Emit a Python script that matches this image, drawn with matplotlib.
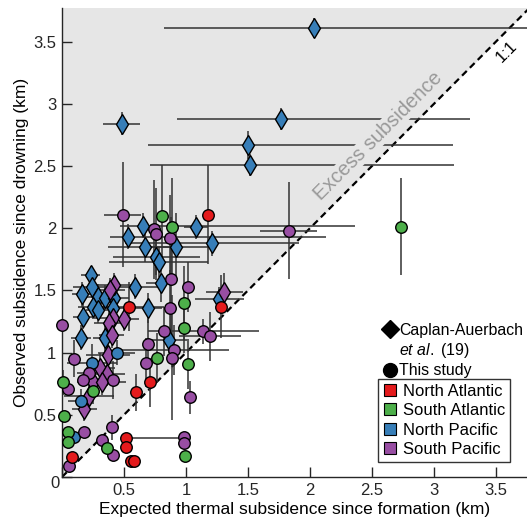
import matplotlib
matplotlib.use("Agg")
import matplotlib.pyplot as plt
from matplotlib.lines import Line2D
import numpy as np

plt.rcParams['font.family'] = 'Liberation Sans'
plt.rcParams['mathtext.fontset'] = 'custom'
plt.rcParams['mathtext.rm'] = 'Liberation Sans'
plt.rcParams['mathtext.it'] = 'Liberation Sans:italic'

colors = {"North Atlantic": "#e41a1c", "South Atlantic": "#4daf4a",
          "North Pacific": "#377eb8", "South Pacific": "#984ea3"}
regions = ["North Atlantic", "South Atlantic", "North Pacific", "South Pacific"]

# Caplan-Auerbach et al. (diamonds): x, y, x err lo/hi, y err
ca_np_x = [2.03, 0.48, 1.77, 1.50, 1.52, 0.65, 0.53, 1.08, 1.21, 0.67, 0.92, 0.76, 0.78, 0.80, 0.23,
           0.24, 0.16, 0.29, 0.35, 0.42, 0.59, 0.69, 0.25, 0.29, 0.41, 0.17, 0.15, 0.35, 0.86, 1.27]
ca_np_y = [3.61, 2.84, 2.88, 2.67, 2.51, 2.02, 1.93, 2.01, 1.88, 1.85, 1.85, 1.77, 1.73, 1.56, 1.62,
           1.53, 1.47, 1.45, 1.44, 1.44, 1.53, 1.36, 1.37, 1.34, 1.36, 1.29, 1.12, 1.12, 1.10, 1.43]
ca_np_xlo = [1.21, 0.15, 0.84, 0.81, 0.81, 0.18, 0.14, 0.10, 0.70, 0.30, 0.30, 0.35, 0.40, 0.12, 0.08,
             0.15, 0.08, 0.15, 0.10, 0.12, 0.20, 0.12, 0.12, 0.10, 0.10, 0.08, 0.08, 0.10, 0.15, 0.20]
ca_np_xhi = [1.90, 0.15, 1.52, 1.65, 1.64, 1.71, 1.60, 0.10, 0.70, 0.30, 0.30, 0.35, 0.40, 0.12, 0.08,
             0.15, 0.08, 0.15, 0.10, 0.12, 0.20, 0.12, 0.12, 0.10, 0.10, 0.08, 0.08, 0.10, 0.15, 0.20]
ca_np_yerr = [0.08, 0.09, 0.09, 0.11, 0.09, 0.10, 0.10, 0.10, 0.10, 0.12, 0.27, 0.15, 0.12, 0.15, 0.08,
              0.08, 0.10, 0.10, 0.10, 0.10, 0.10, 0.12, 0.10, 0.10, 0.10, 0.10, 0.10, 0.12, 0.10, 0.10]

ca_sp_x = [0.42, 0.39, 1.31, 0.41, 0.50, 0.38, 0.40, 0.37, 0.31, 0.36, 0.25, 0.32, 0.22, 0.18]
ca_sp_y = [1.54, 1.50, 1.49, 1.28, 1.27, 1.24, 1.14, 0.98, 0.88, 0.83, 0.76, 0.76, 0.65, 0.55]
ca_sp_xerr = [0.20, 0.12, 0.15, 0.15, 0.12, 0.12, 0.10, 0.18, 0.12, 0.15, 0.12, 0.20, 0.20, 0.10]
ca_sp_yerr = [0.10, 0.10, 0.15, 0.12, 0.10, 0.12, 0.10, 0.12, 0.12, 0.10, 0.12, 0.10, 0.10, 0.10]

# This study (circles)
na_x = [1.18, 0.54, 1.28, 0.71, 0.60, 0.52, 0.52, 0.56, 0.58, 0.08]
na_y = [2.11, 1.37, 1.37, 0.76, 0.68, 0.31, 0.24, 0.13, 0.13, 0.16]
na_xlo = [0, 0.28, 0, 0, 0, 0, 0, 0, 0, 0]
na_xhi = [0, 0.28, 0, 0, 0, 0.46, 0, 0, 0, 0]
na_yerr = [0.40, 0.20, 0.25, 0.20, 0.15, 0, 0, 0, 0, 0]

sa_x = [0.81, 0.89, 2.73, 0.98, 0.98, 0.77, 1.02, 0.01, 0.25, 0.02, 0.05, 0.05, 0.36, 0.99]
sa_y = [2.10, 2.01, 2.01, 1.40, 1.20, 0.96, 0.91, 0.76, 0.69, 0.49, 0.36, 0.28, 0.23, 0.17]
sa_xerr = [0, 0, 0, 0, 0, 0, 0, 0, 0, 0, 0, 0, 0, 0]
sa_yerr = [0.41, 0.39, 0.39, 0.30, 0.20, 0.20, 0.20, 0.10, 0.10, 0, 0, 0, 0, 0]

np_x = [0.44, 0.24, 0.15, 0.10]
np_y = [1.00, 0.92, 0.61, 0.32]
np_xerr = [0.15, 0.20, 0.10, 0]
np_yerr = [0.10, 0.15, 0.10, 0]

sp_x = [0.49, 0.74, 0.76, 0.87, 1.83, 0.88, 1.02, 0.87, 0.00, 0.82, 1.14, 1.19, 0.69, 0.90, 0.10,
        0.89, 0.68, 0.22, 0.17, 0.41, 0.05, 1.03, 0.40, 0.18, 0.32, 0.98, 0.98, 0.41, 0.06]
sp_y = [2.11, 1.99, 1.95, 1.92, 1.98, 1.59, 1.53, 1.36, 1.22, 1.17, 1.17, 1.13, 1.07, 1.02, 0.95,
        0.96, 0.92, 0.84, 0.78, 0.78, 0.71, 0.64, 0.40, 0.36, 0.30, 0.32, 0.27, 0.18, 0.09]
sp_xerr = [0.15, 0, 0, 0, 0.23, 0, 0, 0, 0, 0, 0.45, 0.25, 0, 0.45, 0,
           0, 0, 0.10, 0, 0, 0, 0, 0, 0, 0, 0, 0, 0, 0]
sp_yerr = [0.42, 0.40, 0.37, 0.35, 0.39, 0.50, 0.20, 0.30, 0, 0.20, 0.10, 0.20, 0.20, 0.20, 0.15,
           0.50, 0.20, 0, 0, 0.15, 0, 0.13, 0.10, 0, 0, 0, 0, 0, 0]

xmax, ymax = 3.75, 3.77

fig = plt.figure(figsize=(5.27, 5.18), dpi=100)
ax = fig.add_axes([62/527, 1 - 477/518, 465/527, 469/518])

# shaded excess-subsidence region and 1:1 line
ax.fill_between([0, 4], [0, 4], 4, color='#e6e6e6', lw=0, zorder=0)
ax.plot([0, 4], [0, 4], color='k', lw=1.6, ls=(0, (3, 2)), zorder=1)

eb = dict(fmt='none', ecolor='0.2', elinewidth=1.1, capsize=0, zorder=2)
ax.errorbar(ca_np_x, ca_np_y, xerr=[ca_np_xlo, ca_np_xhi], yerr=ca_np_yerr, **eb)
ax.errorbar(ca_sp_x, ca_sp_y, xerr=ca_sp_xerr, yerr=ca_sp_yerr, **eb)
ax.errorbar(na_x, na_y, xerr=[na_xlo, na_xhi], yerr=na_yerr, **eb)
ax.errorbar(sa_x, sa_y, xerr=sa_xerr, yerr=sa_yerr, **eb)
ax.errorbar(np_x, np_y, xerr=np_xerr, yerr=np_yerr, **eb)
ax.errorbar(sp_x, sp_y, xerr=sp_xerr, yerr=sp_yerr, **eb)

ax.text(2.55, 2.74, "Excess subsidence", rotation=45, color='0.6', fontsize=14.5,
        ha='center', va='center', zorder=3,
        bbox=dict(facecolor='#e6e6e6', edgecolor='none', pad=0.5))
ax.text(3.59, 3.42, "1:1", rotation=45, fontsize=12, ha='center', va='center', zorder=3)

dia = dict(ls='none', marker='d', ms=10.5, mec='k', mew=1, zorder=4, clip_on=False)
ax.plot(ca_np_x, ca_np_y, mfc=colors["North Pacific"], **dia)
ax.plot(ca_sp_x, ca_sp_y, mfc=colors["South Pacific"], **dia)

circ = dict(ls='none', marker='o', ms=8.3, mec='k', mew=1, zorder=5, clip_on=False)
ax.plot(np_x, np_y, mfc=colors["North Pacific"], **circ)
ax.plot(sp_x, sp_y, mfc=colors["South Pacific"], **circ)
ax.plot(sa_x, sa_y, mfc=colors["South Atlantic"], **circ)
ax.plot(na_x, na_y, mfc=colors["North Atlantic"], **circ)

ax.set_xlim(0, xmax)
ax.set_ylim(0, ymax)
ticks = [0, 0.5, 1, 1.5, 2, 2.5, 3, 3.5]
labels = ["", "0.5", "1", "1.5", "2", "2.5", "3", "3.5"]
ax.set_xticks(ticks, labels)
ax.set_yticks(ticks, labels)
ax.tick_params(direction='in', length=7, width=1, labelsize=12, pad=4, colors='0.15')
ax.text(-0.015, -0.013, "0", transform=ax.transAxes, fontsize=12, ha='center', va='center',
        color='0.15')
for s in ['top', 'right']:
    ax.spines[s].set_visible(False)
for s in ['left', 'bottom']:
    ax.spines[s].set_color('0.15')
    ax.spines[s].set_linewidth(1)

ax.set_xlabel("Expected thermal subsidence since formation (km)", fontsize=12.5, labelpad=3)
ax.set_ylabel("Observed subsidence since drowning (km)", fontsize=12.5, labelpad=3)

# source legend
src_handles = [Line2D([], [], ls='none', marker='D', ms=9, mfc='k', mec='k'),
               Line2D([], [], ls='none'),
               Line2D([], [], ls='none', marker='o', ms=10, mfc='k', mec='k')]
src_labels = ["Caplan-Auerbach", r"$\it{et\ al.}$ ($\it{19}$)", "This study"]
leg1 = ax.legend(src_handles, src_labels, loc='upper left', bbox_to_anchor=(0.678, 0.342),
                 frameon=False, fontsize=11.4, handlelength=0.8, handletextpad=0.2,
                 labelspacing=0.2, borderaxespad=0)
ax.add_artist(leg1)

reg_handles = [Line2D([], [], ls='none', marker='s', ms=9, mfc=colors[r], mec='k', mew=0.8)
               for r in regions]
leg2 = ax.legend(reg_handles, regions, loc='upper left', bbox_to_anchor=(0.680, 0.209),
                 frameon=True, fancybox=False, edgecolor='k', fontsize=12,
                 handlelength=0.8, handletextpad=0.4, labelspacing=0.26,
                 borderpad=0.3, borderaxespad=0)
leg2.get_frame().set_linewidth(1)

fig.savefig("out.png", dpi=100)
